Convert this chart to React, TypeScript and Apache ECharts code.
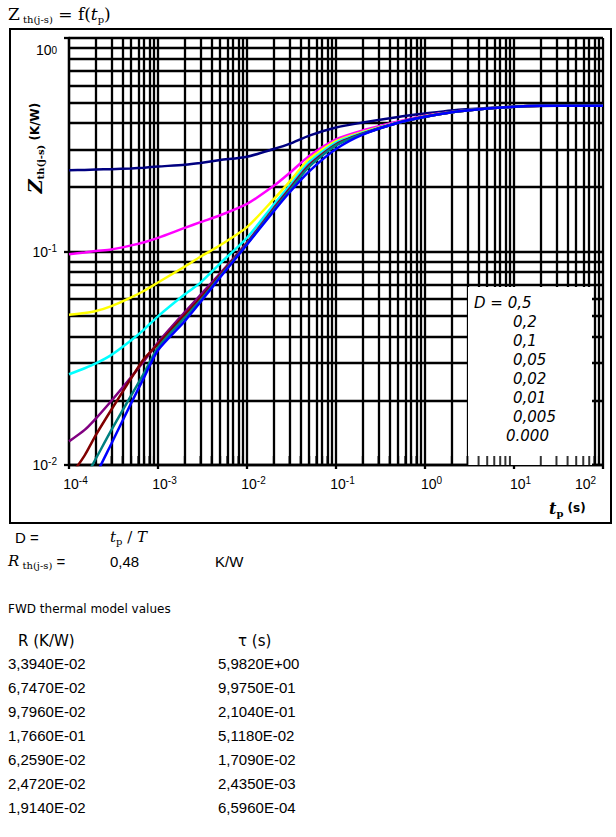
import React, { useEffect, useRef } from "react";
import * as echarts from "echarts";

// pulse duration t_p (s)
const tp = [1e-4, 1.5e-4, 2e-4, 3e-4, 5e-4, 7e-4, 1e-3, 2e-3, 3e-3, 5e-3, 1e-2, 2e-2, 3e-2, 5e-2, 0.1, 0.2, 0.5, 1, 2, 5, 10, 20, 50, 100];

// Z_th(j-s) (K/W), one array per duty cycle D
const zD0500 = [0.240, 0.241, 0.242, 0.243, 0.245, 0.247, 0.250, 0.255, 0.260, 0.268, 0.278, 0.302, 0.319, 0.349, 0.381, 0.402, 0.427, 0.443, 0.458, 0.470, 0.476, 0.480, 0.482, 0.482];
const zD0200 = [0.0972, 0.0990, 0.1005, 0.1022, 0.1068, 0.1105, 0.1158, 0.1290, 0.1372, 0.1478, 0.167, 0.203, 0.233, 0.280, 0.335, 0.369, 0.406, 0.432, 0.450, 0.467, 0.476, 0.481, 0.482, 0.482];
const zD0100 = [0.0505, 0.0515, 0.0526, 0.0555, 0.0610, 0.0655, 0.0716, 0.0850, 0.0945, 0.107, 0.130, 0.176, 0.212, 0.271, 0.329, 0.363, 0.402, 0.430, 0.449, 0.467, 0.476, 0.481, 0.482, 0.482];
const zD0050 = [0.0266, 0.0284, 0.0299, 0.0328, 0.0384, 0.0432, 0.0497, 0.0630, 0.0715, 0.0880, 0.116, 0.166, 0.203, 0.262, 0.324, 0.360, 0.402, 0.429, 0.449, 0.467, 0.476, 0.481, 0.482, 0.482];
const zD0020 = [0.0129, 0.0146, 0.0165, 0.0200, 0.0258, 0.0308, 0.0375, 0.0520, 0.0626, 0.0790, 0.110, 0.160, 0.197, 0.255, 0.318, 0.357, 0.401, 0.428, 0.449, 0.467, 0.476, 0.481, 0.482, 0.482];
const zD0010 = [0.0087, 0.0111, 0.0138, 0.0182, 0.0255, 0.0315, 0.0368, 0.0505, 0.0605, 0.0775, 0.109, 0.158, 0.195, 0.252, 0.316, 0.356, 0.401, 0.428, 0.449, 0.467, 0.476, 0.481, 0.482, 0.482];
const zD0005 = [0.0066, 0.0086, 0.0107, 0.0146, 0.0212, 0.0270, 0.0355, 0.0490, 0.0590, 0.0765, 0.1085, 0.157, 0.193, 0.250, 0.314, 0.355, 0.401, 0.428, 0.449, 0.467, 0.476, 0.481, 0.482, 0.482];
const zD0000 = [0.0045, 0.0065, 0.0089, 0.0126, 0.0195, 0.0258, 0.0345, 0.0472, 0.0580, 0.0757, 0.1078, 0.1545, 0.189, 0.2375, 0.302, 0.353, 0.401, 0.428, 0.449, 0.467, 0.476, 0.481, 0.482, 0.482];

const curves = [zD0500, zD0200, zD0100, zD0050, zD0020, zD0010, zD0005, zD0000];
const curveColors = ["#000080", "#FF00FF", "#FFFF00", "#00FFFF", "#800080", "#800000", "#008080", "#0000FF"];
const dutyLabels = ["D = 0,5", "0,2", "0,1", "0,05", "0,02", "0,01", "0,005", "0.000"];

// log grid
const xDecades = [1e-4, 1e-3, 1e-2, 1e-1, 1, 10];
const yDecades = [0.01, 0.1];
const minorSteps = [2, 3, 4, 5, 6, 7, 8, 9];

// FWD thermal model table
const modelR = ["3,3940E-02", "6,7470E-02", "9,7960E-02", "1,7660E-01", "6,2590E-02", "2,4720E-02", "1,9140E-02"];
const modelTau = ["5,9820E+00", "9,9750E-01", "2,1040E-01", "5,1180E-02", "1,7090E-02", "2,4350E-03", "6,5960E-04"];
const rthValue = "0,48";

const SANS = "Liberation Sans";
const VERD = "DejaVu Sans";
const SERIF = "DejaVu Serif";

export default function App() {
  const ref = useRef<HTMLDivElement>(null);

  useEffect(() => {
    const chart = echarts.init(ref.current!, null, { renderer: "svg" });

    const xMinor: number[] = [];
    xDecades.forEach((d) => minorSteps.forEach((m) => xMinor.push(+(d * m).toPrecision(6))));
    const yMinor: number[] = [];
    yDecades.forEach((d) => minorSteps.forEach((m) => yMinor.push(+(d * m).toPrecision(6))));

    const expOf = (v: number) => Math.round(Math.log10(v));
    const xLabel = (v: number) => {
      const e = expOf(v);
      return e >= 2 ? `{b2|10}{s2|${e}}` : `{b|10}{s|${e}}`;
    };
    const yLabel = (v: number) => {
      const e = expOf(v);
      return e === 0 ? `{b0|10}{s0|0}` : `{y|10}{s|${e}}`;
    };
    const baseTok = { fontFamily: SANS, fontSize: 14, lineHeight: 17, color: "#000" };
    const supTok = { fontFamily: SANS, fontSize: 10, lineHeight: 13, verticalAlign: "top", color: "#000" };
    const xRich = {
      b: { ...baseTok, padding: [0, 0, 0, 13] },
      s: supTok,
      b2: baseTok,
      s2: { ...supTok, padding: [0, 7, 0, 0] },
    };
    const yRich = {
      y: baseTok,
      s: supTok,
      b0: { ...baseTok, padding: [7, 0, 0, 0] },
      s0: { ...supTok, padding: [7, 0, 0, 0] },
    };

    const blackLine = { color: "#000", width: 2.3, type: "solid" as const };

    const series: any[] = [
      {
        type: "line",
        data: [[1e-4, 0.5]],
        showSymbol: false,
        lineStyle: { width: 0 },
        silent: true,
        z: 1,
        markLine: {
          silent: true,
          precision: 12,
          symbol: ["none", "none"],
          label: { show: false },
          lineStyle: blackLine,
          emphasis: { disabled: true },
          z: 1,
          data: [...xMinor.map((v) => ({ xAxis: v })), ...yMinor.map((v) => ({ yAxis: v }))],
        },
      },
      {
        type: "scatter",
        data: xMinor.map((v) => [v, 0.01]),
        symbol: "rect",
        symbolSize: [2, 9],
        symbolOffset: [0, -4.5],
        itemStyle: { color: "#000" },
        silent: true,
        z: 4,
      },
    ];

    curves.forEach((arr, i) => {
      series.push({
        type: "line",
        name: dutyLabels[i],
        data: tp.map((t, k) => [t, arr[k]]),
        showSymbol: false,
        smooth: 0.25,
        clip: true,
        lineStyle: { color: curveColors[i], width: 2.5 },
        silent: true,
        z: 5,
      });
    });

    const legendRows = dutyLabels.map((txt, i) => ({
      type: "text",
      x: i === 0 ? 474 : i === 7 ? 506 : 513,
      y: 303 + i * 19,
      z: 6,
      style: {
        text: txt,
        fontFamily: VERD,
        fontStyle: "italic",
        fontSize: 15,
        fill: "#000",
        verticalAlign: "middle",
      },
    }));

    const tableRows: any[] = [];
    modelR.forEach((r, i) => {
      tableRows.push({
        type: "text", x: 8, y: 663 + i * 24,
        style: { text: r, fontFamily: SANS, fontSize: 15, fill: "#000", verticalAlign: "middle" },
      });
      tableRows.push({
        type: "text", x: 218, y: 663 + i * 24,
        style: { text: modelTau[i], fontFamily: SANS, fontSize: 15, fill: "#000", verticalAlign: "middle" },
      });
    });

    const option: any = {
      animation: false,
      backgroundColor: "#fff",
      grid: { left: 69, top: 38, right: 13, bottom: 372, containLabel: false },
      xAxis: {
        type: "log",
        logBase: 10,
        min: 1e-4,
        max: 100,
        axisLine: { show: true, lineStyle: blackLine },
        axisTick: { show: true, length: 4, lineStyle: blackLine },
        splitLine: { show: true, lineStyle: blackLine },
        axisLabel: { formatter: xLabel, rich: xRich, margin: 10, alignMaxLabel: "right" },
      },
      yAxis: {
        type: "log",
        logBase: 10,
        min: 0.01,
        max: 1,
        axisLine: { show: true, lineStyle: blackLine },
        axisTick: { show: true, length: 5, lineStyle: blackLine },
        splitLine: { show: true, lineStyle: blackLine },
        axisLabel: { formatter: yLabel, rich: yRich, margin: 12, verticalAlignMaxLabel: "top" },
      },
      series,
      graphic: [
        {
          type: "rect", z: 0, silent: true,
          shape: { x: 10, y: 29, width: 601, height: 494 },
          style: { fill: "none", stroke: "#000", lineWidth: 2 },
        },
        {
          type: "rect", z: 3, silent: true,
          shape: { x: 468, y: 287, width: 124, height: 178 },
          style: { fill: "#fff", stroke: "none" },
        },
        ...legendRows,
        {
          type: "text", x: 8, y: 14, z: 6,
          style: {
            text: "{a|Z}{s| th(j-s)}{a| = f(}{i|t}{s|p}{a|)}",
            verticalAlign: "middle",
            rich: {
              a: { fontFamily: SERIF, fontSize: 17, lineHeight: 20, fill: "#000" },
              i: { fontFamily: SERIF, fontStyle: "italic", fontSize: 17, lineHeight: 20, fill: "#000" },
              s: { fontFamily: SERIF, fontSize: 10, lineHeight: 11, verticalAlign: "bottom", fill: "#000" },
            },
          },
        },
        {
          type: "text", x: 35, y: 148, rotation: Math.PI / 2, z: 6,
          style: {
            text: "{z|Z}{s|th(j-s)}{k| (K/W)}",
            align: "center",
            verticalAlign: "middle",
            rich: {
              z: { fontFamily: SERIF, fontStyle: "italic", fontWeight: "bold", fontSize: 19, lineHeight: 20, fill: "#000" },
              s: { fontFamily: SERIF, fontWeight: "bold", fontSize: 10, lineHeight: 11, verticalAlign: "bottom", fill: "#000" },
              k: { fontFamily: VERD, fontWeight: "bold", fontSize: 12, lineHeight: 20, fill: "#000" },
            },
          },
        },
        {
          type: "text", x: 549, y: 508, z: 6,
          style: {
            text: "{t|t}{s|p}{k| (s)}",
            verticalAlign: "middle",
            rich: {
              t: { fontFamily: SERIF, fontStyle: "italic", fontWeight: "bold", fontSize: 16, lineHeight: 20, fill: "#000" },
              s: { fontFamily: SERIF, fontWeight: "bold", fontSize: 10, lineHeight: 11, verticalAlign: "bottom", fill: "#000" },
              k: { fontFamily: VERD, fontWeight: "bold", fontSize: 12, lineHeight: 20, fill: "#000" },
            },
          },
        },
        {
          type: "text", x: 15, y: 537,
          style: { text: "D =", fontFamily: SANS, fontSize: 15, fill: "#000", verticalAlign: "middle" },
        },
        {
          type: "text", x: 110, y: 537,
          style: {
            text: "{i|t}{s|p}{a| / }{i|T}",
            verticalAlign: "middle",
            rich: {
              a: { fontFamily: SERIF, fontSize: 15, lineHeight: 19, fill: "#000" },
              i: { fontFamily: SERIF, fontStyle: "italic", fontSize: 15, lineHeight: 19, fill: "#000" },
              s: { fontFamily: SERIF, fontSize: 10, lineHeight: 11, verticalAlign: "bottom", fill: "#000" },
            },
          },
        },
        {
          type: "text", x: 8, y: 561,
          style: {
            text: "{i|R}{s| th(j-s)}{a| =}",
            verticalAlign: "middle",
            rich: {
              a: { fontFamily: SANS, fontSize: 15, lineHeight: 19, fill: "#000" },
              i: { fontFamily: SERIF, fontStyle: "italic", fontSize: 15, lineHeight: 19, fill: "#000" },
              s: { fontFamily: SERIF, fontSize: 10, lineHeight: 11, verticalAlign: "bottom", fill: "#000" },
            },
          },
        },
        {
          type: "text", x: 110, y: 561,
          style: { text: rthValue, fontFamily: SANS, fontSize: 15, fill: "#000", verticalAlign: "middle" },
        },
        {
          type: "text", x: 215, y: 561,
          style: { text: "K/W", fontFamily: SANS, fontSize: 15, fill: "#000", verticalAlign: "middle" },
        },
        {
          type: "text", x: 8, y: 609,
          style: { text: "FWD thermal model values", fontFamily: VERD, fontSize: 12, fill: "#000", verticalAlign: "middle" },
        },
        {
          type: "text", x: 18, y: 641,
          style: { text: "R (K/W)", fontFamily: VERD, fontSize: 15, fill: "#000", verticalAlign: "middle" },
        },
        {
          type: "text", x: 238, y: 641,
          style: { text: "τ (s)", fontFamily: VERD, fontSize: 15, fill: "#000", verticalAlign: "middle" },
        },
        ...tableRows,
      ],
    };

    chart.setOption(option);
    return () => chart.dispose();
  }, []);

  return (
    <div
      ref={ref}
      style={{ position: "absolute", left: 0, top: 0, width: 616, height: 837, background: "#fff" }}
    />
  );
}
